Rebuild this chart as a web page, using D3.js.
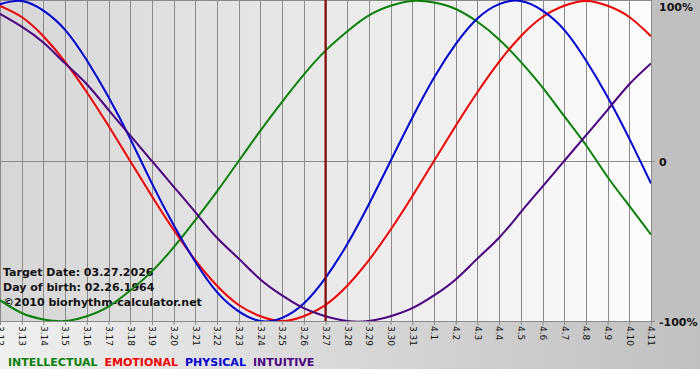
<!DOCTYPE html>
<html lang="en">
<head>
<meta charset="utf-8">
<script src="https://d3js.org/d3.v7.min.js"></script>
<style>
  body { margin: 0; background: #fff; }
  svg { display: block; font-family: Verdana, "DejaVu Sans", sans-serif; }
</style>
</head>
<body>
<div id="chart"></div>
<script>
// days shown on the x axis
var days = ["3.12","3.13","3.14","3.15","3.16","3.17","3.18","3.19","3.20","3.21","3.22","3.23","3.24","3.25","3.26","3.27",
  "3.28","3.29","3.30","3.31","4.1","4.2","4.3","4.4","4.5","4.6","4.7","4.8","4.9","4.10","4.11"];

// values in percent, one per day
var intellectual = [-87,-95,-99,-100,-97,-91,-81,-69,-54,-37,-19,0,19,37,54,69,81,91,97,100,99,95,87,76,62,46,28,10,-10,-28,-46];
var emotional = [97,90,78,62,43,22,0,-22,-43,-62,-78,-90,-97,-100,-97,-90,-78,-62,-43,-22,0,22,43,62,78,90,97,100,97,90,78];
var physical = [98,100,94,82,63,40,14,-14,-40,-63,-82,-94,-100,-98,-89,-73,-52,-27,0,27,52,73,89,98,100,94,82,63,40,14,-14];
var intuitive = [92,84,74,61,48,32,16,0,-16,-32,-48,-61,-74,-84,-92,-97,-100,-100,-97,-92,-84,-74,-61,-48,-32,-16,0,16,32,48,61];

var seriesNames = ["INTELLECTUAL","EMOTIONAL","PHYSICAL","INTUITIVE"];
var seriesColors = ["#0a800a","#ee0000","#0000d0","#4b0082"];
var percentTicks = [100, 0, -100];
var targetDay = "3.27";
var infoLines = ["Target Date: 03.27.2026", "Day of birth: 02.26.1964", "\u00a92010 biorhythm-calculator.net"];

var W = 700, H = 380;
var plotW = 651, plotTop = 1, plotBottom = 321;

var svg = d3.select("#chart").append("svg")
  .attr("width", W).attr("height", H);

var defs = svg.append("defs");
var g1 = defs.append("linearGradient").attr("id", "plotBg").attr("x1", 0).attr("x2", 1).attr("y1", 0).attr("y2", 0);
g1.append("stop").attr("offset", "0%").attr("stop-color", "#d6d6d6");
g1.append("stop").attr("offset", "100%").attr("stop-color", "#fcfcfc");
var g2 = defs.append("linearGradient").attr("id", "bottomBg").attr("x1", 0).attr("x2", 1).attr("y1", 0).attr("y2", 0);
g2.append("stop").attr("offset", "0%").attr("stop-color", "#efefef");
g2.append("stop").attr("offset", "100%").attr("stop-color", "#c0c0c0");
defs.append("clipPath").attr("id", "plotClip")
  .append("rect").attr("x", 0).attr("y", 0).attr("width", plotW).attr("height", plotBottom);

// backgrounds
svg.append("rect").attr("x", 0).attr("y", 0).attr("width", W).attr("height", H).attr("fill", "#fff");
svg.append("rect").attr("x", 0).attr("y", plotBottom).attr("width", W).attr("height", 48).attr("fill", "url(#bottomBg)");
svg.append("rect").attr("x", plotW).attr("y", 0).attr("width", W - plotW).attr("height", plotBottom).attr("fill", "#c0c0c0");
svg.append("rect").attr("x", 0).attr("y", 0).attr("width", plotW).attr("height", plotBottom).attr("fill", "url(#plotBg)");

// scales
var x = d3.scalePoint().domain(days).range([0, plotW]);
var y = d3.scaleLinear().domain([-100, 100]).range([plotBottom, plotTop]);

// vertical grid
svg.append("g").selectAll("line").data(days).enter().append("line")
  .attr("x1", function(d){ return Math.round(x(d)) + 0.5; })
  .attr("x2", function(d){ return Math.round(x(d)) + 0.5; })
  .attr("y1", 0).attr("y2", plotBottom)
  .attr("stroke", "#8a8a8a").attr("stroke-width", 1);

// top and zero lines
svg.append("line").attr("x1", 0).attr("x2", plotW).attr("y1", 0.5).attr("y2", 0.5).attr("stroke", "#8a8a8a");
svg.append("line").attr("x1", 0).attr("x2", plotW + 4).attr("y1", Math.round(y(0)) + 0.5).attr("y2", Math.round(y(0)) + 0.5).attr("stroke", "#8a8a8a");

// bottom axis
var xAxis = d3.axisBottom(x).tickSize(4).tickPadding(3);
var xg = svg.append("g").attr("transform", "translate(0," + plotBottom + ")").call(xAxis);
xg.select(".domain").attr("stroke", "#8a8a8a").attr("d", "M0,0.5H" + (plotW + 4));
xg.selectAll(".tick line").attr("stroke", "#8a8a8a");
xg.selectAll(".tick text")
  .attr("font-size", 9).attr("font-family", "Verdana, 'DejaVu Sans', sans-serif")
  .attr("fill", "#111")
  .attr("transform", "rotate(90)")
  .attr("x", 5).attr("y", 0).attr("dy", "0.35em")
  .style("text-anchor", "start");

// right axis labels
var yg = svg.append("g").attr("transform", "translate(" + plotW + ",0)")
  .call(d3.axisRight(y).tickValues(percentTicks).tickSize(0).tickPadding(8)
    .tickFormat(function(d){ return d === 0 ? "0" : d + "%"; }));
yg.select(".domain").remove();
yg.selectAll(".tick text")
  .attr("font-size", 11).attr("font-weight", "bold").attr("fill", "#111")
  .attr("font-family", "Verdana, 'DejaVu Sans', sans-serif")
  .attr("dy", function(d){ return d === 100 ? "0.9em" : "0.4em"; });

// info text
svg.append("g").selectAll("text").data(infoLines).enter().append("text")
  .attr("x", 3).attr("y", function(d, i){ return 276 + i * 15; })
  .attr("font-size", 11).attr("font-weight", "bold").attr("fill", "#111")
  .text(function(d){ return d; });

// curves
var line = d3.line()
  .x(function(d, i){ return x(days[i]); })
  .y(function(d){ return y(d); })
  .curve(d3.curveNatural);

var plotG = svg.append("g").attr("clip-path", "url(#plotClip)");
[intellectual, emotional, physical, intuitive].forEach(function(s, i){
  plotG.append("path").datum(s)
    .attr("d", line)
    .attr("fill", "none")
    .attr("stroke", seriesColors[i])
    .attr("stroke-width", 2);
});

// target date marker
plotG.append("line")
  .attr("x1", x(targetDay)).attr("x2", x(targetDay))
  .attr("y1", 0).attr("y2", plotBottom)
  .attr("stroke", "#8b0000").attr("stroke-width", 2);

// legend
var lx = 8;
seriesNames.forEach(function(name, i){
  var t = svg.append("text")
    .attr("x", lx).attr("y", 366)
    .attr("font-size", 11).attr("font-weight", "bold")
    .attr("fill", seriesColors[i])
    .text(name);
  lx += t.node().getComputedTextLength() + 7;
});
</script>
</body>
</html>
